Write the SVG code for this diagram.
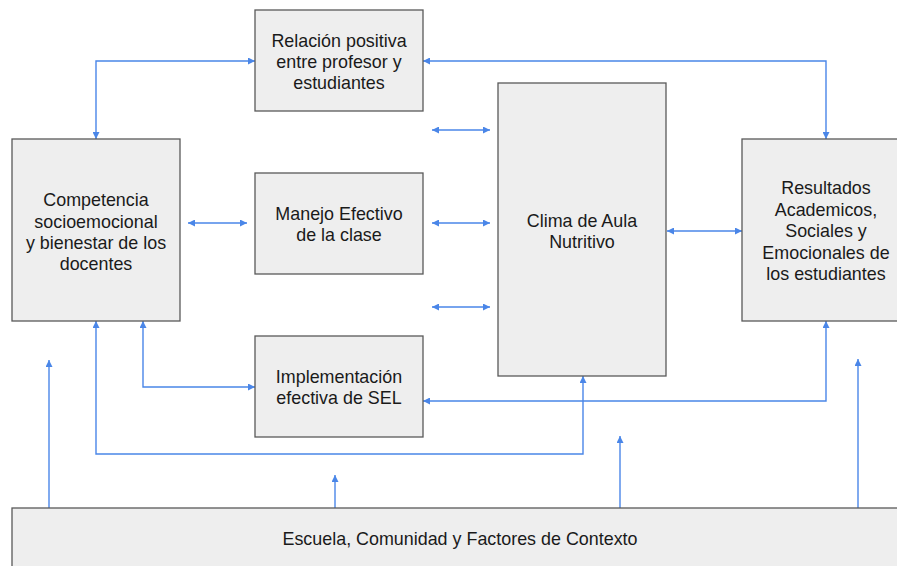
<svg xmlns="http://www.w3.org/2000/svg" width="897" height="566" viewBox="0 0 897 566">
  <style>
    .box { fill: #eeeeee; stroke: #595959; stroke-width: 1.3; }
    .lbl { font-family: "Liberation Sans", Arial, sans-serif; font-size: 17.9px; fill: #1a1a1a; text-anchor: middle; }
    .con { fill: none; stroke: #4a86e8; stroke-width: 1.4; }
  </style>
  <defs>
    <marker id="ah" viewBox="0 0 10 10" refX="10" refY="5" markerWidth="7" markerHeight="7" markerUnits="userSpaceOnUse" orient="auto-start-reverse">
      <path d="M0,0 L10,5 L0,10 z" fill="#4a86e8"/>
    </marker>
  </defs>
  <rect width="897" height="566" fill="#ffffff"/>

  <g id="connectors">
    <path class="con" d="M96,139 V61 H255" marker-start="url(#ah)" marker-end="url(#ah)"/>
    <path class="con" d="M423,61 H826 V139" marker-start="url(#ah)" marker-end="url(#ah)"/>
    <path class="con" d="M432,130 H490" marker-start="url(#ah)" marker-end="url(#ah)"/>
    <path class="con" d="M432,223 H490" marker-start="url(#ah)" marker-end="url(#ah)"/>
    <path class="con" d="M432,307 H490" marker-start="url(#ah)" marker-end="url(#ah)"/>
    <path class="con" d="M188,223 H247" marker-start="url(#ah)" marker-end="url(#ah)"/>
    <path class="con" d="M667,231 H742" marker-start="url(#ah)" marker-end="url(#ah)"/>
    <path class="con" d="M143,321 V387 H255" marker-start="url(#ah)" marker-end="url(#ah)"/>
    <path class="con" d="M96,321 V454 H583 V376" marker-start="url(#ah)" marker-end="url(#ah)"/>
    <path class="con" d="M826,321 V401 H423" marker-start="url(#ah)" marker-end="url(#ah)"/>
    <path class="con" d="M49,508 V360" marker-end="url(#ah)"/>
    <path class="con" d="M335,508 V475" marker-end="url(#ah)"/>
    <path class="con" d="M620,508 V436" marker-end="url(#ah)"/>
    <path class="con" d="M858,508 V359" marker-end="url(#ah)"/>
  </g>

  <g id="relacion">
    <rect class="box" x="255" y="10" width="168" height="101"/>
    <text class="lbl" x="339" y="47">Relación positiva</text>
    <text class="lbl" x="339" y="68">entre profesor y</text>
    <text class="lbl" x="339" y="89">estudiantes</text>
  </g>

  <g id="competencia">
    <rect class="box" x="12" y="139" width="168" height="182"/>
    <text class="lbl" x="96" y="206">Competencia</text>
    <text class="lbl" x="96" y="228">socioemocional</text>
    <text class="lbl" x="96" y="249">y bienestar de los</text>
    <text class="lbl" x="96" y="270">docentes</text>
  </g>

  <g id="manejo">
    <rect class="box" x="255" y="173" width="168" height="101"/>
    <text class="lbl" x="339" y="220">Manejo Efectivo</text>
    <text class="lbl" x="339" y="241">de la clase</text>
  </g>

  <g id="implementacion">
    <rect class="box" x="255" y="336" width="168" height="101"/>
    <text class="lbl" x="339" y="383">Implementación</text>
    <text class="lbl" x="339" y="404">efectiva de SEL</text>
  </g>

  <g id="clima">
    <rect class="box" x="498" y="83" width="168" height="293"/>
    <text class="lbl" x="582" y="227">Clima de Aula</text>
    <text class="lbl" x="582" y="248">Nutritivo</text>
  </g>

  <g id="resultados">
    <rect class="box" x="742" y="139" width="168" height="182"/>
    <text class="lbl" x="826" y="194">Resultados</text>
    <text class="lbl" x="826" y="216">Academicos,</text>
    <text class="lbl" x="826" y="237">Sociales y</text>
    <text class="lbl" x="826" y="259">Emocionales de</text>
    <text class="lbl" x="826" y="280">los estudiantes</text>
  </g>

  <g id="escuela">
    <rect class="box" x="12" y="508" width="897" height="70"/>
    <text class="lbl" x="460" y="545">Escuela, Comunidad y Factores de Contexto</text>
  </g>
</svg>
